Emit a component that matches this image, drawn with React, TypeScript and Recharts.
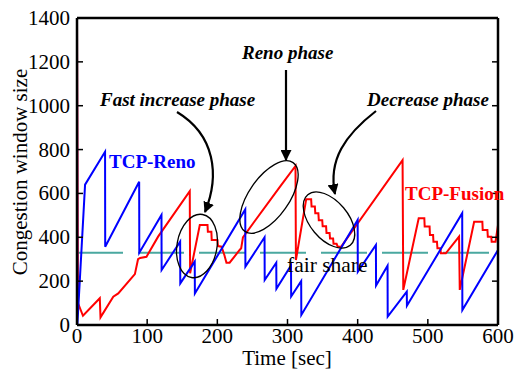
import { LineChart, Line, XAxis, YAxis, ReferenceLine } from 'recharts'

// TCP-Reno congestion window (time in sec, window size)
const renoTime = [
  0, 0.5, 11.5, 40, 40.2, 88.6, 88.8, 120.4, 120.6, 147, 147.2, 167.8, 168, 239.8, 240,
  267.3, 267.5, 284, 284.2, 305, 305.2, 319.5, 319.7, 400, 400.2, 426, 426.2, 442.6,
  442.8, 470, 470.2, 549, 549.2, 600,
]
const renoWnd = [
  1400, 0, 640, 790, 357, 653, 330, 502, 251, 380, 190, 289, 144, 527, 266,
  400, 205, 284, 165, 272, 130, 200, 46, 479, 243, 365, 180, 270,
  38, 152, 88, 510, 68, 342,
]

// TCP-Fusion congestion window
const fusionTime = [
  0, 1.4, 8.5, 32.5, 33.5, 51.7, 58.8, 82.5, 87, 90, 99, 115.6, 160.7, 161.2, 175, 186,
  186.5, 191.5, 192, 200, 201, 206, 210, 213, 217.5, 231.8, 234, 236.5, 288.6, 311.4,
  312, 326.6, 333.7, 334.3, 339, 339.6, 344, 344.6, 349.5, 350.1, 355, 355.6, 360,
  360.6, 365, 365.6, 370, 371.6, 376.3, 464, 465, 487, 495, 495.5, 502.5, 503, 507.5,
  508, 513, 513.7, 518, 518.5, 525.6, 544.5, 545.5, 566, 577.7, 578.2, 584.9, 585.5,
  590.4, 591, 596.5, 600,
]
const fusionWnd = [
  1400, 100, 42, 122, 35, 129, 144, 232, 300, 306, 311, 403, 610, 236, 456, 456,
  425, 425, 388, 388, 360, 357, 319, 284, 284, 342, 350, 400, 628, 725,
  296, 573, 573, 540, 540, 510, 510, 478, 478, 450, 450, 420, 420,
  395, 395, 370, 370, 357, 357, 752, 160, 487, 487, 449, 449, 410, 410,
  380, 380, 350, 350, 327, 327, 403, 160, 471, 471, 433, 433, 403,
  403, 380, 380, 455,
]

const fairShare = 330

const xTicks = [0, 100, 200, 300, 400, 500, 600]
const yTicks = [0, 200, 400, 600, 800, 1000, 1200, 1400]

const renoData = renoTime.map((t, i) => ({ t, w: renoWnd[i] }))
const fusionData = fusionTime.map((t, i) => ({ t, w: fusionWnd[i] }))

const serif = '"Liberation Serif", "Times New Roman", serif'
const axisLine = { stroke: '#000', strokeWidth: 2.5 }
const tickLine = { stroke: '#000', strokeWidth: 1.5 }

function XTick({ x, y, payload }: any) {
  return (
    <text x={x} y={y + 15} textAnchor="middle" fontFamily={serif} fontSize={21} fill="#000">
      {payload.value}
    </text>
  )
}

function YTick({ x, y, payload }: any) {
  return (
    <text x={x} y={y + 7} textAnchor="end" fontFamily={serif} fontSize={21} fill="#000">
      {payload.value}
    </text>
  )
}

function Annotations() {
  return (
    <svg
      width={527}
      height={370}
      style={{ position: 'absolute', left: 0, top: 0, pointerEvents: 'none' }}
    >
      <defs>
        <marker id="head" viewBox="0 0 10 10" refX="9" refY="5" markerWidth="5" markerHeight="5" orient="auto">
          <path d="M0,0 L10,5 L0,10 z" fill="#000" />
        </marker>
      </defs>
      <g fill="none" stroke="#000" strokeWidth={1.3}>
        <ellipse cx={197} cy={246} rx={20} ry={32} transform="rotate(10 197 246)" />
        <ellipse cx={269} cy={197} rx={42} ry={20} transform="rotate(-55 269 197)" />
        <ellipse cx={329} cy={220} rx={33} ry={19} transform="rotate(50 329 220)" />
      </g>
      <g fill="none" stroke="#000" strokeWidth={2.2}>
        <path d="M177,112 C215,135 220,175 205,212" markerEnd="url(#head)" />
        <path d="M286,70 L286,160" markerEnd="url(#head)" />
        <path d="M376,111 C345,135 328,160 335,194" markerEnd="url(#head)" />
      </g>
      <g fontFamily={serif} fontWeight="bold" fontStyle="italic" fontSize={19} fill="#000">
        <text x={100} y={106}>Fast increase phase</text>
        <text x={242} y={59}>Reno phase</text>
        <text x={367} y={106}>Decrease phase</text>
      </g>
      <text x={109} y={168} fontFamily={serif} fontWeight="bold" fontSize={19} fill="#0000ff">
        TCP-Reno
      </text>
      <text x={405} y={200} fontFamily={serif} fontWeight="bold" fontSize={19} fill="#ff0000">
        TCP-Fusion
      </text>
      <text x={287} y={272} fontFamily={serif} fontSize={21.5} fill="#000">
        fair share
      </text>
      <text x={287} y={365} textAnchor="middle" fontFamily={serif} fontSize={21} fill="#000">
        Time [sec]
      </text>
      <text
        x={0}
        y={0}
        transform="translate(27 172) rotate(-90)"
        textAnchor="middle"
        fontFamily={serif}
        fontSize={21}
        fill="#000"
      >
        Congestion window size
      </text>
    </svg>
  )
}

export default function App() {
  return (
    <div
      style={{
        position: 'absolute',
        left: 0,
        top: 0,
        width: 527,
        height: 370,
        background: '#fff',
        fontFamily: serif,
      }}
    >
      <LineChart width={527} height={370} margin={{ top: 17, right: 28, bottom: 0, left: 0 }}>
        <XAxis
          dataKey="t"
          type="number"
          domain={[0, 600]}
          ticks={xTicks}
          height={45}
          axisLine={axisLine}
          tickLine={tickLine}
          tickSize={-6}
          tickMargin={9}
          tick={<XTick />}
          allowDataOverflow
        />
        <XAxis
          xAxisId="top"
          orientation="top"
          type="number"
          domain={[0, 600]}
          ticks={xTicks}
          height={1}
          axisLine={axisLine}
          tickLine={tickLine}
          tickSize={-6}
          tickFormatter={() => ''}
          allowDataOverflow
        />
        <YAxis
          type="number"
          domain={[0, 1400]}
          ticks={yTicks}
          width={77}
          axisLine={axisLine}
          tickLine={tickLine}
          tickSize={-6}
          tickMargin={13}
          tick={<YTick />}
          allowDataOverflow
        />
        <YAxis
          yAxisId="right"
          orientation="right"
          type="number"
          domain={[0, 1400]}
          ticks={yTicks}
          width={1}
          axisLine={axisLine}
          tickLine={tickLine}
          tickSize={-6}
          tickFormatter={() => ''}
          allowDataOverflow
        />
        <ReferenceLine y={fairShare} stroke="#4aa8a0" strokeWidth={2} strokeDasharray="46 15" />
        <Line
          data={fusionData}
          dataKey="w"
          type="linear"
          stroke="#ff0000"
          strokeWidth={2}
          dot={false}
          isAnimationActive={false}
        />
        <Line
          data={renoData}
          dataKey="w"
          type="linear"
          stroke="#0000ff"
          strokeWidth={2}
          dot={false}
          isAnimationActive={false}
        />
      </LineChart>
      <Annotations />
    </div>
  )
}
